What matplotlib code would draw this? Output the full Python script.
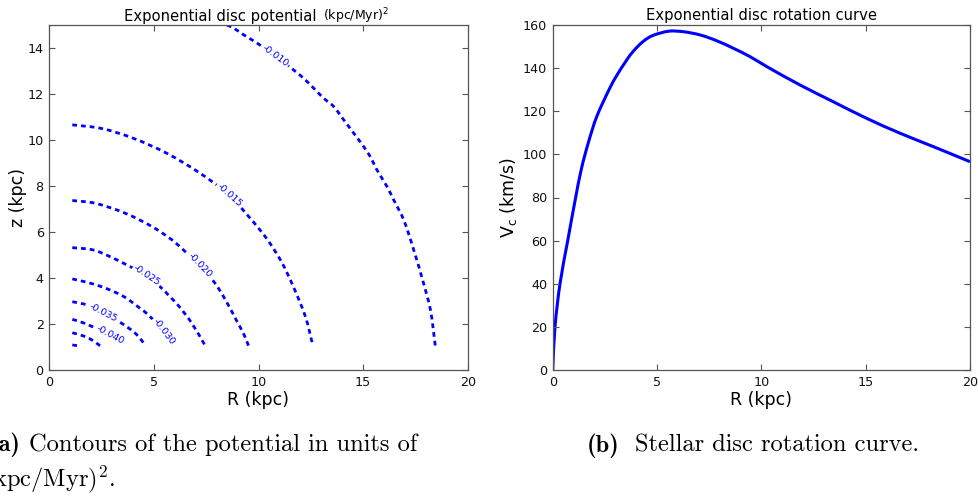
import numpy as np
import matplotlib
matplotlib.use("Agg")
import matplotlib.pyplot as plt
from matplotlib.path import Path
from matplotlib.patches import PathPatch

plt.rcParams["lines.scale_dashes"] = False
plt.rcParams["font.family"] = ["DejaVu Sans"]

# ---- contour levels of the disc potential, (kpc/Myr)^2 ----
levels = [-0.010, -0.015, -0.020, -0.025, -0.030, -0.035, -0.040, -0.045, -0.050]

# traced (R, z) points along each contour, kpc
contour_R = [
    [8.49, 8.80, 9.28, 9.92, 10.80, 11.67, 12.15, 12.63, 13.11, 13.59, 14.07, 14.55,
     15.02, 15.34, 15.66, 16.14, 16.46, 16.94, 17.42, 17.89, 18.22, 18.45],
    [1.10, 2.50, 4.00, 5.60, 7.20, 8.60, 9.60, 10.40, 11.10, 11.70, 12.25, 12.60],
    [1.10, 2.19, 3.62, 4.90, 5.86, 6.41, 7.20, 7.90, 8.45, 8.95, 9.30, 9.52],
    [1.10, 2.10, 2.90, 3.70, 4.66, 5.38, 5.69, 6.17, 6.80, 7.45],
    [1.10, 2.10, 2.90, 3.62, 4.34, 4.74, 5.45, 5.85],
    [1.10, 1.47, 1.79, 2.58, 3.34, 3.70, 4.02, 4.34, 4.58],
    [1.10, 1.47, 1.87, 2.90, 3.50],
    [1.10, 1.63, 2.03, 2.43],
    [1.10, 1.45],
]
contour_z = [
    [15.00, 14.87, 14.58, 14.22, 13.66, 13.05, 12.69, 12.26, 11.82, 11.46, 10.88, 10.30,
     9.72, 9.28, 8.70, 7.98, 7.40, 6.53, 5.22, 3.77, 2.61, 1.06],
    [10.66, 10.50, 10.08, 9.43, 8.56, 7.60, 6.60, 5.70, 4.70, 3.55, 2.30, 1.06],
    [7.37, 7.25, 6.82, 6.24, 5.66, 5.22, 4.55, 3.80, 3.00, 2.15, 1.55, 1.06],
    [5.32, 5.22, 4.93, 4.57, 4.10, 3.55, 3.26, 2.80, 2.05, 1.06],
    [3.96, 3.74, 3.48, 3.16, 2.68, 2.39, 1.67, 1.06],
    [2.97, 2.90, 2.83, 2.47, 2.10, 1.88, 1.67, 1.38, 1.06],
    [2.20, 2.10, 1.96, 1.52, 1.17],
    [1.62, 1.48, 1.31, 1.05],
    [1.09, 1.04],
]

# inline labels: level text and its (R, z) position on the contour
label_text = ["-0.010", "-0.015", "-0.020", "-0.025", "-0.030", "-0.035", "-0.040"]
label_R = [10.80, 8.60, 7.20, 4.66, 5.45, 2.58, 2.90]
label_z = [13.66, 7.60, 4.55, 4.10, 1.67, 2.47, 1.52]

# ---- circular velocity of the stellar disc ----
curve_R = [0, 0.11, 0.35, 0.72, 1.10, 1.38, 1.71, 2.11, 2.75, 3.07, 3.55, 3.86, 4.34,
           4.82, 5.62, 6.26, 7.06, 7.86, 8.66, 9.46, 10.26, 11.85, 13.45, 15.05, 16.65,
           18.24, 20.0]
curve_V = [0, 20, 40, 60, 80, 93.5, 105.5, 117.5, 131.0, 136.6, 143.8, 147.8, 152.4,
           155.2, 157.2, 156.9, 155.4, 152.7, 149.2, 145.3, 140.7, 132.2, 124.4, 116.7,
           109.8, 103.6, 96.6]


def smooth_path(ax, xs, ys):
    """Cubic Bezier path through the given data points (chord-length Catmull-Rom)."""
    P = np.column_stack([xs, ys]).astype(float)
    n = len(P)
    if n < 3:
        return Path(P)
    D = ax.transData.transform(P)
    seg = np.hypot(*np.diff(D, axis=0).T)
    t = np.concatenate([[0], np.cumsum(seg)])
    m = np.zeros_like(P)
    m[0] = (P[1] - P[0]) / (t[1] - t[0])
    m[-1] = (P[-1] - P[-2]) / (t[-1] - t[-2])
    for i in range(1, n - 1):
        m[i] = (P[i + 1] - P[i - 1]) / (t[i + 1] - t[i - 1])
    verts = [P[0]]
    codes = [Path.MOVETO]
    for i in range(n - 1):
        h = t[i + 1] - t[i]
        verts += [P[i] + m[i] * h / 3, P[i + 1] - m[i + 1] * h / 3, P[i + 1]]
        codes += [Path.CURVE4] * 3
    return Path(verts, codes)


W, H = 979, 500
fig = plt.figure(figsize=(W / 100, H / 100), dpi=100)
ax1 = fig.add_axes([49.3 / W, 130 / H, 418.4 / W, 345 / H])
ax2 = fig.add_axes([552.7 / W, 130 / H, 417.3 / W, 345 / H])

frame_col = "#555555"
for ax in (ax1, ax2):
    for sp in ax.spines.values():
        sp.set_color(frame_col)
        sp.set_linewidth(0.9)
    ax.tick_params(direction="in", top=True, right=True, length=4.5, width=0.8,
                   color=frame_col, labelsize=9.2, pad=4, labelcolor="#111111")

# ---- left panel: potential contours ----
ax1.set_xlim(0, 20)
ax1.set_ylim(0, 15)
ax1.set_xticks([0, 5, 10, 15, 20])
ax1.set_yticks(np.arange(0, 15, 2))
for Rs, zs in zip(contour_R, contour_z):
    ax1.add_patch(PathPatch(smooth_path(ax1, Rs, zs), fill=False, edgecolor="blue",
                            lw=2.0, linestyle=(0, (3.4, 2.9)), capstyle="butt"))

for txt, lr, lz, Rs, zs in zip(label_text, label_R, label_z, contour_R, contour_z):
    disp = ax1.transData.transform(np.column_stack([Rs, zs]))
    p = ax1.transData.transform((lr, lz))
    i = int(np.argmin(np.hypot(*(disp - p).T)))
    a = max(i - 1, 0)
    b = min(i + 1, len(Rs) - 1)
    d = disp[b] - disp[a]
    ang = np.degrees(np.arctan2(d[1], d[0]))
    if ang > 90:
        ang -= 180
    elif ang < -90:
        ang += 180
    ax1.text(lr, lz, txt, rotation=ang, rotation_mode="anchor", ha="center",
             va="center", fontsize=6.8, color="blue", zorder=5,
             bbox=dict(facecolor="white", edgecolor="none", pad=0.8))

ax1.set_xlabel("R (kpc)", fontsize=12.5, labelpad=2)
ax1.set_ylabel("z (kpc)", fontsize=12.5, labelpad=0)
t1 = ax1.text(0.1785, 1.0 + 4.3 / 345, "Exponential disc potential", fontsize=10.6,
              transform=ax1.transAxes, ha="left", va="baseline")
ax1.annotate(r"$\mathregular{(kpc/Myr)}^2$", xy=(1, 1.0 + 4.3 / 345),
             xycoords=(t1, ax1.transAxes), xytext=(4.5, 0), textcoords="offset points",
             ha="left", va="baseline", fontsize=9.0)

# ---- right panel: rotation curve ----
ax2.add_patch(PathPatch(smooth_path(ax2, curve_R, curve_V), fill=False,
                        edgecolor="blue", lw=2.2, capstyle="butt"))
ax2.set_xlim(0, 20)
ax2.set_ylim(0, 160)
ax2.set_xticks([0, 5, 10, 15, 20])
ax2.set_yticks(np.arange(0, 161, 20))
ax2.set_xlabel("R (kpc)", fontsize=12.5, labelpad=2)
ax2.set_ylabel(r"V$_\mathregular{c}$ (km/s)", fontsize=12.5, labelpad=2.5)
ax2.set_title("Exponential disc rotation curve", fontsize=10.6, pad=3.3)

# ---- sub-figure captions ----
cap = 17.6
ta = fig.text(417 / W, 49.3 / H, "Contours of the potential in units of",
              family="cmr10", fontsize=cap, ha="right", va="baseline")
ax1.annotate("(a)", xy=(0, 49.3), xycoords=(ta, "figure pixels"), xytext=(-5.5, 0),
             textcoords="offset points", ha="right", va="baseline",
             family="cmb10", fontsize=cap, annotation_clip=False)
fig.text(115 / W, 13.3 / H, r"(kpc/Myr)$^2$.", family="cmr10", math_fontfamily="cm",
         fontsize=cap, ha="right", va="baseline")

tb = fig.text(586.7 / W, 48.3 / H, "(b)", family="cmb10", fontsize=cap, ha="left",
              va="baseline")
ax2.annotate("Stellar disc rotation curve.", xy=(1, 48.3), xycoords=(tb, "figure pixels"),
             xytext=(11, 0), textcoords="offset points", ha="left", va="baseline",
             family="cmr10", fontsize=cap, annotation_clip=False)

fig.savefig("out.png", dpi=100, facecolor="white")
